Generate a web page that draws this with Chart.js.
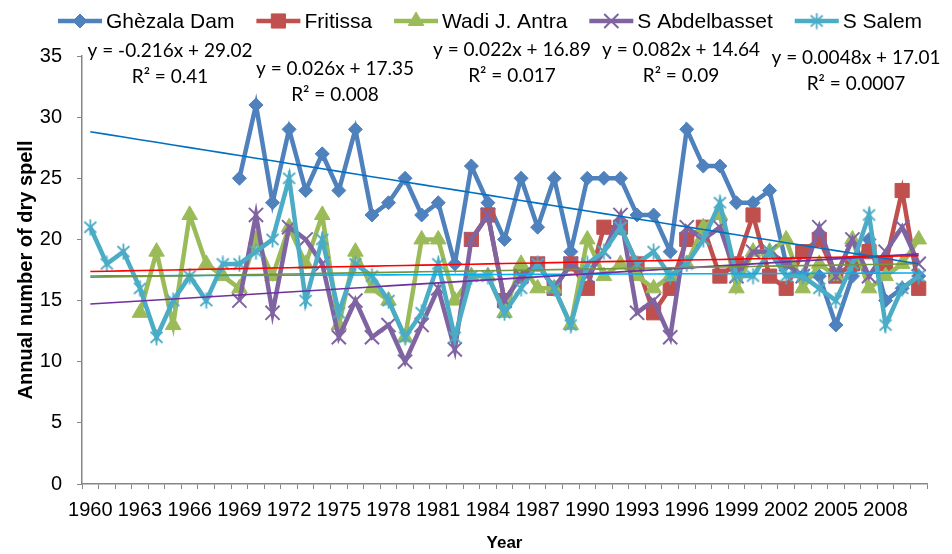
<!DOCTYPE html>
<html>
<head>
<meta charset="utf-8">
<script src="https://cdn.jsdelivr.net/npm/chart.js@4.4.1/dist/chart.umd.min.js"></script>
<style>
  html, body { margin: 0; padding: 0; background: #fff; }
  #wrap { width: 952px; height: 554px; }
</style>
</head>
<body>
<div id="wrap"><canvas id="chart-dry-spell" width="952" height="554"></canvas></div>
<script>
const YEARS = [
  '1960', '1961', '1962', '1963', '1964', '1965', '1966', '1967', '1968', '1969',
  '1970', '1971', '1972', '1973', '1974', '1975', '1976', '1977', '1978', '1979',
  '1980', '1981', '1982', '1983', '1984', '1985', '1986', '1987', '1988', '1989',
  '1990', '1991', '1992', '1993', '1994', '1995', '1996', '1997', '1998', '1999',
  '2000', '2001', '2002', '2003', '2004', '2005', '2006', '2007', '2008', '2009', '2010',
];
const TICK_YEARS = ['1960', '1963', '1966', '1969', '1972', '1975', '1978', '1981', '1984',
  '1987', '1990', '1993', '1996', '1999', '2002', '2005', '2008'];

const GHEZALA = [
  null, null, null, null, null, null, null, null, null, 25,
  31, 23, 29, 24, 27, 24, 29, 22, 23, 25,
  22, 23, 18, 26, 23, 20, 25, 21, 25, 19,
  25, 25, 25, 22, 22, 19, 29, 26, 26, 23,
  23, 24, 18, 17, 17, 13, 17, 20, 15, 16, 17,
];
const FRITISSA = [
  null, null, null, null, null, null, null, null, null, null,
  null, null, null, null, null, null, null, null, null, null,
  null, null, null, 20, 22, 15, 17, 18, 16, 18,
  16, 21, 21, 18, 14, 16, 20, 21, 17, 18,
  22, 17, 16, 19, 20, 17, 18, 19, 18, 24, 16,
];
const WADI = [
  null, null, null, 14, 19, 13, 22, 18, 17, 16,
  20, 17, 21, 18, 22, 13, 19, 16, 15, 12,
  20, 20, 15, 17, 17, 14, 18, 16, 16, 13,
  20, 17, 18, 17, 16, 17, 18, 21, 22, 16,
  19, 19, 20, 16, 18, 17, 20, 16, 17, 18, 20,
];
const ABDELBASSET = [
  null, null, null, null, null, null, null, null, null, 15,
  22, 14, 21, 20, 18, 12, 15, 12, 13, 10,
  13, 16, 11, 20, 22, 15, 17, 18, 16, 18,
  17, 19, 22, 14, 15, 12, 21, 20, 21, 17,
  19, 19, 18, 17, 21, 17, 20, 17, 19, 21, 18,
];
const SALEM = [
  21, 18, 19, 16, 12, 15, 17, 15, 18, 18,
  19, 20, 25, 15, 20, 14, 18, 17, 15, 12,
  14, 18, 12, 17, 17, 14, 16, 18, 16, 13,
  18, 19, 21, 18, 19, 17, 18, 20, 23, 17,
  17, 19, 17, 17, 16, 15, 18, 22, 13, 16, 17,
];

const SERIES_NAMES = ['Ghèzala Dam', 'Fritissa', 'Wadi J. Antra', 'S Abdelbasset', 'S Salem'];
const SERIES_VALUES = [GHEZALA, FRITISSA, WADI, ABDELBASSET, SALEM];

// linear trendlines as printed on the chart (x = 1 for 1960)
const TREND_SLOPES = [-0.216, 0.026, 0.022, 0.082, 0.0048];
const TREND_INTERCEPTS = [29.02, 17.35, 16.89, 14.64, 17.01];
const TREND_EQUATIONS = ['y = -0.216x + 29.02', 'y = 0.026x + 17.35', 'y = 0.022x + 16.89',
  'y = 0.082x + 14.64', 'y = 0.0048x + 17.01'];
const TREND_R2 = ['R² = 0.41', 'R² = 0.008', 'R² = 0.017', 'R² = 0.09', 'R² = 0.0007'];

// styling
const FONT = '"Liberation Sans", Arial, sans-serif';
const AXIS_GREY = '#868686';

function makeStar(color) {
  const c = document.createElement('canvas');
  c.width = 17;
  c.height = 17;
  const g = c.getContext('2d');
  g.strokeStyle = color;
  g.lineWidth = 1.8;
  g.beginPath();
  g.moveTo(2.5, 3); g.lineTo(14.5, 14);
  g.moveTo(14.5, 3); g.lineTo(2.5, 14);
  g.moveTo(8.5, 0.5); g.lineTo(8.5, 16.5);
  g.stroke();
  return c;
}

const STYLES = [
  { color: '#4F81BD', point: 'rectRot', radius: 7, border: 1 },
  { color: '#C0504D', point: 'rect', radius: 10, border: 1 },
  { color: '#9BBB59', point: 'triangle', radius: 9, border: 1 },
  { color: '#8064A2', point: 'crossRot', radius: 10, border: 2 },
  { color: '#4BACC6', point: makeStar('#4BACC6'), radius: 8, border: 1 },
];
const TREND_COLORS = ['#0070C0', '#FF0000', '#77933C', '#7030A0', '#00B0F0'];
const LABEL_POS = [[170, 51], [335, 69], [512, 50], [681, 50], [856, 58]];

const datasets = [];
SERIES_NAMES.forEach((name, i) => {
  const st = STYLES[i];
  datasets.push({
    label: name,
    data: SERIES_VALUES[i],
    borderColor: st.color,
    backgroundColor: st.color,
    borderWidth: 4.5,
    pointStyle: st.point,
    pointRadius: st.radius,
    pointBorderWidth: st.border,
    pointBorderColor: st.color,
    pointBackgroundColor: st.color,
    tension: 0,
    order: 10 - i,
  });
});
SERIES_NAMES.forEach((name, i) => {
  datasets.push({
    label: name + ' trend',
    data: YEARS.map((y, k) => TREND_SLOPES[i] * (k + 1) + TREND_INTERCEPTS[i]),
    borderColor: TREND_COLORS[i],
    borderWidth: 1.6,
    pointRadius: 0,
    tension: 0,
    order: 0,
  });
});

function drawMarker(ctx, st, x, y) {
  ctx.save();
  ctx.fillStyle = st.color;
  ctx.strokeStyle = st.color;
  ctx.lineWidth = st.border;
  Chart.helpers.drawPoint(ctx, { pointStyle: st.point, radius: st.radius, rotation: 0, borderWidth: st.border }, x, y);
  ctx.restore();
}

const legendPlugin = {
  id: 'lineLegend',
  afterDraw(chart) {
    const ctx = chart.ctx;
    ctx.save();
    ctx.font = '21px ' + FONT;
    ctx.textBaseline = 'middle';
    let x = 58;
    const y = 21;
    SERIES_NAMES.forEach((name, i) => {
      const st = STYLES[i];
      ctx.strokeStyle = st.color;
      ctx.lineWidth = 4.5;
      ctx.beginPath();
      ctx.moveTo(x, y);
      ctx.lineTo(x + 44, y);
      ctx.stroke();
      drawMarker(ctx, st, x + 22, y);
      x += 48;
      ctx.fillStyle = '#000';
      ctx.fillText(name, x, y + 1);
      x += ctx.measureText(name).width + 22;
    });
    ctx.restore();
  },
};

const equationPlugin = {
  id: 'trendEquations',
  afterDraw(chart) {
    const ctx = chart.ctx;
    ctx.save();
    ctx.font = '19px Lato, ' + FONT;
    ctx.fillStyle = '#000';
    ctx.textAlign = 'center';
    ctx.textBaseline = 'middle';
    TREND_EQUATIONS.forEach((eq, i) => {
      const [cx, cy] = LABEL_POS[i];
      ctx.fillText(eq, cx, cy);
      ctx.fillText(TREND_R2[i], cx, cy + 26);
    });
    ctx.restore();
  },
};

new Chart(document.getElementById('chart-dry-spell').getContext('2d'), {
  type: 'line',
  data: { labels: YEARS, datasets },
  plugins: [legendPlugin, equationPlugin],
  options: {
    responsive: false,
    animation: false,
    layout: { padding: { left: 0, right: 25, top: 56, bottom: 0 } },
    plugins: {
      legend: { display: false },
      tooltip: { enabled: false },
    },
    scales: {
      x: {
        type: 'category',
        offset: true,
        grid: { offset: true, drawOnChartArea: false, drawTicks: true, tickLength: 5, color: AXIS_GREY, lineWidth: 1 },
        border: { color: AXIS_GREY, width: 1.5 },
        ticks: {
          autoSkip: false,
          maxRotation: 0,
          minRotation: 0,
          padding: 9,
          color: '#000',
          font: { family: FONT, size: 20 },
          callback(value) {
            const lab = this.getLabelForValue(value);
            return TICK_YEARS.includes(lab) ? lab : '';
          },
        },
        title: {
          display: true,
          text: 'Year',
          color: '#000',
          font: { family: FONT, size: 17, weight: 'bold' },
          padding: { top: 0, bottom: 0 },
        },
        afterFit(scale) { scale.height = 70; },
      },
      y: {
        min: 0,
        max: 35,
        grid: { drawOnChartArea: false, drawTicks: true, tickLength: 5, color: AXIS_GREY, lineWidth: 1 },
        border: { color: AXIS_GREY, width: 1.5 },
        ticks: {
          stepSize: 5,
          padding: 15,
          color: '#000',
          font: { family: FONT, size: 20 },
        },
        title: {
          display: true,
          text: 'Annual number of dry spell',
          color: '#000',
          font: { family: FONT, size: 20, weight: 'bold' },
          padding: { top: 14, bottom: 0 },
        },
        afterFit(scale) { scale.width = 82; },
      },
    },
  },
});
</script>
</body>
</html>
